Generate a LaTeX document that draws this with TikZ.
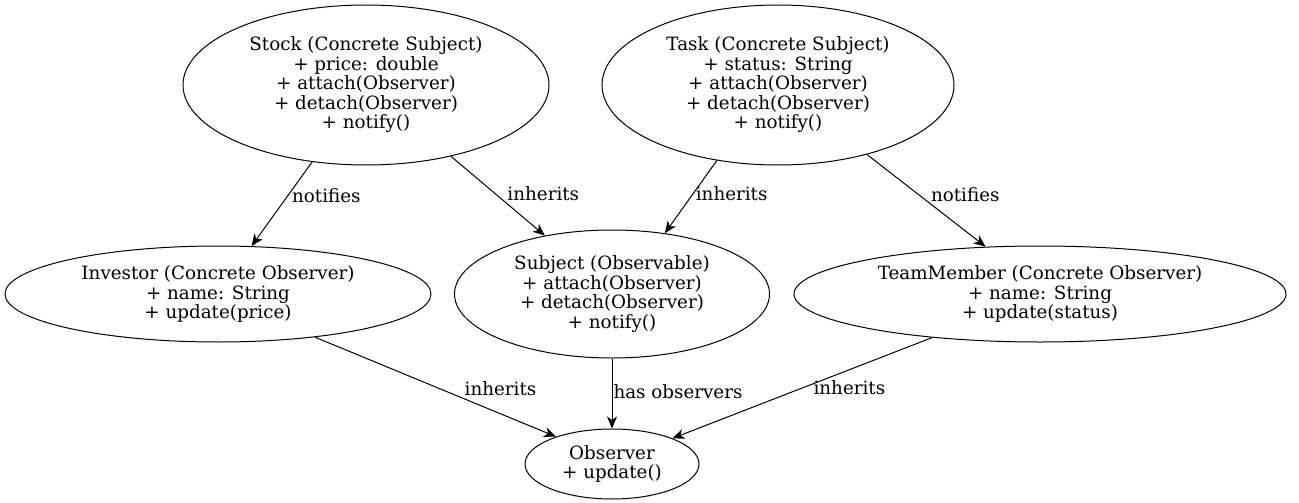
\documentclass[tikz,border=0pt]{standalone}
\usepackage{fontspec}
\setmainfont{DejaVu Serif}
\usetikzlibrary{arrows.meta,shapes.geometric}

\tikzset{
  cls/.style={draw, ellipse, inner sep=0pt, align=center, font=\fontsize{18.3pt}{19.5pt}\selectfont},
  lbl/.style={anchor=west, inner sep=0pt, font=\fontsize{18.3pt}{19.5pt}\selectfont},
}

\begin{document}
\begin{tikzpicture}[x=1pt, y=-1pt, line width=1pt, >={Stealth[length=12pt, width=10pt, inset=3.5pt]}]
    \useasboundingbox (0,0) rectangle (1299,503);
    \node[cls, minimum width=366pt, minimum height=160pt] (Stock) at (366, 85){Stock (Concrete Subject)\\+ price: double\\+ attach(Observer)\\+ detach(Observer)\\+ notify()};
    \node[cls, minimum width=352pt, minimum height=160pt] (Task) at (778, 85){Task (Concrete Subject)\\+ status: String\\+ attach(Observer)\\+ detach(Observer)\\+ notify()};
    \node[cls, minimum width=426pt, minimum height=96pt] (Investor) at (218, 294){Investor (Concrete Observer)\\+ name: String\\+ update(price)};
    \node[cls, minimum width=315pt, minimum height=128pt] (Subject) at (612, 294){Subject (Observable)\\+ attach(Observer)\\+ detach(Observer)\\+ notify()};
    \node[cls, minimum width=492pt, minimum height=96pt] (TeamMember) at (1040, 294){TeamMember (Concrete Observer)\\+ name: String\\+ update(status)};
    \node[cls, minimum width=174pt, minimum height=70pt] (Observer) at (612, 464){Observer\\+ update()};
    \draw[->] (Stock.235)--(Investor.55) node[pos=0.42, lbl, xshift=5pt, yshift=2pt]{notifies};
    \draw[->] (Stock.320)--(Subject.139) node[pos=0.49, lbl, xshift=10pt, yshift=2pt]{inherits};
    \draw[->] (Task.231)--(Subject.49.5) node[pos=0.49, lbl, xshift=4pt, yshift=2pt]{inherits};
    \draw[->] (Task.322)--(TeamMember.139) node[pos=0.46, lbl, xshift=9pt, yshift=2pt]{notifies};
    \draw[->] (Investor.336)--(Observer.154) node[pos=0.54, lbl, xshift=19pt, yshift=2pt]{inherits};
    \draw[->] (Subject.270)--(Observer.90) node[pos=0.5, lbl, xshift=1pt, yshift=2pt]{has observers};
    \draw[->] (TeamMember.202)--(Observer.23) node[pos=0.52, lbl, xshift=16pt, yshift=2pt]{inherits};
\end{tikzpicture}
\end{document}
